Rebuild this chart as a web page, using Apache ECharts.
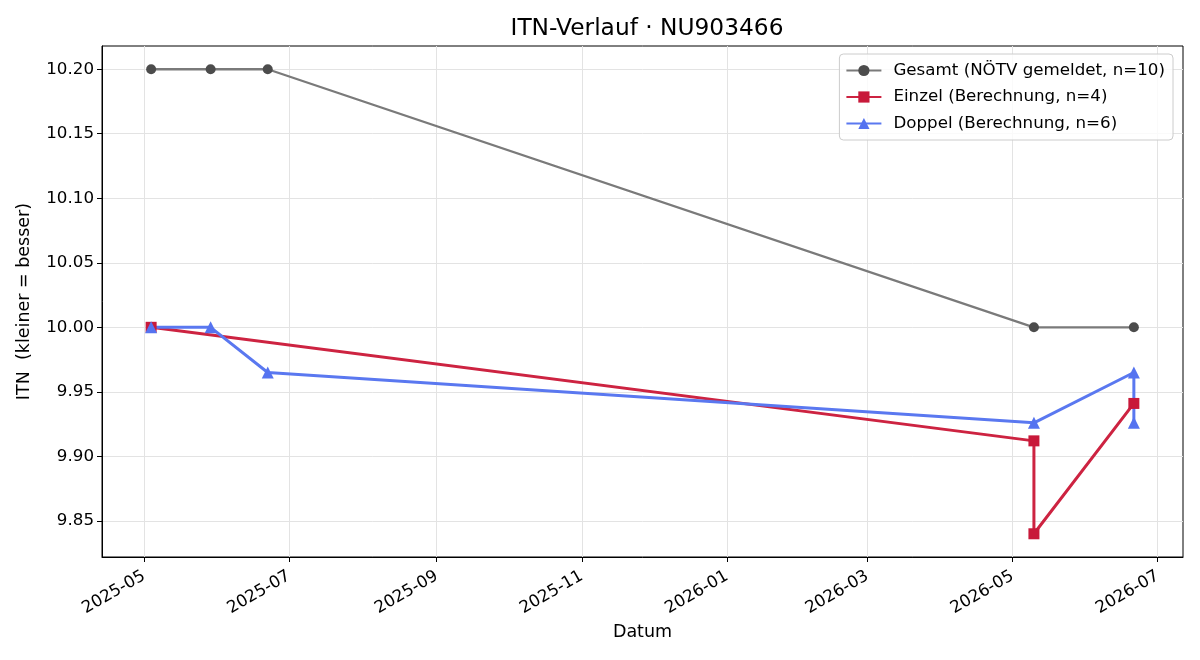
<!DOCTYPE html>
<html>
<head>
<meta charset="utf-8">
<script src="https://cdn.jsdelivr.net/npm/echarts@6/dist/echarts.min.js"></script>
<style>html,body{margin:0;padding:0;background:#fff}#c{width:1200px;height:660px}</style>
</head>
<body>
<div id="c"></div>
<script>
// ---- data ----
const gesamtDates = ['2025-05-04','2025-05-29','2025-06-22','2026-05-10','2026-06-21'];
const gesamtValues = [10.20, 10.20, 10.20, 10.00, 10.00];
const einzelDates = ['2025-05-04','2026-05-10','2026-05-10','2026-06-21'];
const einzelValues = [10.00, 9.912, 9.840, 9.941];
const doppelDates = ['2025-05-04','2025-05-29','2025-06-22','2026-05-10','2026-06-21','2026-06-21'];
const doppelValues = [10.00, 10.00, 9.965, 9.926, 9.965, 9.926];
const xTickLabels = ['2025-05','2025-07','2025-09','2025-11','2026-01','2026-03','2026-05','2026-07'];
const yTickValues = [9.85, 9.90, 9.95, 10.00, 10.05, 10.10, 10.15, 10.20];
const seriesNames = ['Gesamt (NÖTV gemeldet, n=10)','Einzel (Berechnung, n=4)','Doppel (Berechnung, n=6)'];

function toTs(s){ const p = s.split('-').map(Number); return Date.UTC(p[0], p[1]-1, p[2] || 1); }
function pairs(d, v){ return d.map((x,i)=>[toTs(x), v[i]]); }

const allDates = gesamtDates.concat(einzelDates, doppelDates).map(toTs);
const dMin = Math.min(...allDates), dMax = Math.max(...allDates);
const xPad = (dMax - dMin) * 0.05;
const allVals = gesamtValues.concat(einzelValues, doppelValues);
const vMin = Math.min(...allVals), vMax = Math.max(...allVals);
const yPad = (vMax - vMin) * 0.05;

const xTicks = xTickLabels.map(toTs);
const FONT = 'DejaVu Sans';
const FS = 16.7;

const chart = echarts.init(document.getElementById('c'), null, {renderer:'canvas'});
chart.setOption({
  backgroundColor: '#fff',
  animation: false,
  textStyle: {fontFamily: FONT},
  title: {
    text: 'ITN-Verlauf · NU903466',
    left: 642, top: 12, textAlign: 'center',
    textStyle: {fontFamily: FONT, fontSize: 23.3, fontWeight: 'normal', color: '#000'}
  },
  grid: {left: 102, right: 17, top: 46, bottom: 103, show: true, borderColor: '#000', borderWidth: 1, containLabel: false},
  legend: {
    data: seriesNames,
    orient: 'vertical',
    right: 27, top: 54,
    itemWidth: 35, itemHeight: 14, itemGap: 9.5,
    padding: [8, 8, 8, 6],
    backgroundColor: 'rgba(255,255,255,0.8)',
    borderColor: '#cccccc', borderWidth: 1, borderRadius: 4,
    textStyle: {fontFamily: FONT, fontSize: FS, color: '#000', padding: [0, 0, 0, 7]}
  },
  xAxis: {
    type: 'value',
    min: dMin - xPad, max: dMax + xPad,
    name: 'Datum', nameLocation: 'middle', nameGap: 66,
    nameTextStyle: {fontFamily: FONT, fontSize: 17.5, color: '#000'},
    axisLine: {show: true, lineStyle: {color: '#000', width: 1}},
    axisTick: {show: true, customValues: xTicks, length: 5, inside: false, lineStyle: {color: '#000'}},
    axisLabel: {customValues: xTicks, rotate: 30, fontFamily: FONT, fontSize: FS, color: '#000', margin: 18,
      formatter: function(v){ const d = new Date(v); return d.getUTCFullYear() + '-' + String(d.getUTCMonth()+1).padStart(2,'0'); }},
    splitLine: {show: true, customValues: xTicks, lineStyle: {color: '#e3e3e3', width: 1}}
  },
  yAxis: {
    type: 'value',
    min: vMin - yPad, max: vMax + yPad,
    name: 'ITN  (kleiner = besser)', nameLocation: 'middle', nameGap: 69,
    nameTextStyle: {fontFamily: FONT, fontSize: 17.5, color: '#000'},
    axisLine: {show: true, lineStyle: {color: '#000', width: 1}},
    axisTick: {show: true, customValues: yTickValues, length: 5, lineStyle: {color: '#000'}},
    axisLabel: {customValues: yTickValues, fontFamily: FONT, fontSize: FS, color: '#000', margin: 8,
      formatter: function(v){ return v.toFixed(2); }},
    splitLine: {show: true, customValues: yTickValues, lineStyle: {color: '#e3e3e3', width: 1}}
  },
  series: [
    {
      name: seriesNames[0], type: 'line', data: pairs(gesamtDates, gesamtValues),
      symbol: 'circle', symbolSize: 10,
      lineStyle: {color: 'rgb(122,122,122)', width: 2.3},
      itemStyle: {color: '#4c4c4c'},
      color: 'rgb(122,122,122)'
    },
    {
      name: seriesNames[1], type: 'line', data: pairs(einzelDates, einzelValues),
      symbol: 'rect', symbolSize: 11,
      lineStyle: {color: 'rgb(205,35,65)', width: 3},
      itemStyle: {color: 'rgb(200,25,58)'},
      color: 'rgb(205,35,65)'
    },
    {
      name: seriesNames[2], type: 'line', data: pairs(doppelDates, doppelValues),
      symbol: 'triangle', symbolSize: 12,
      lineStyle: {color: 'rgb(90,120,240)', width: 3},
      itemStyle: {color: 'rgb(85,115,240)'},
      color: 'rgb(90,120,240)'
    }
  ]
});
</script>
</body>
</html>
